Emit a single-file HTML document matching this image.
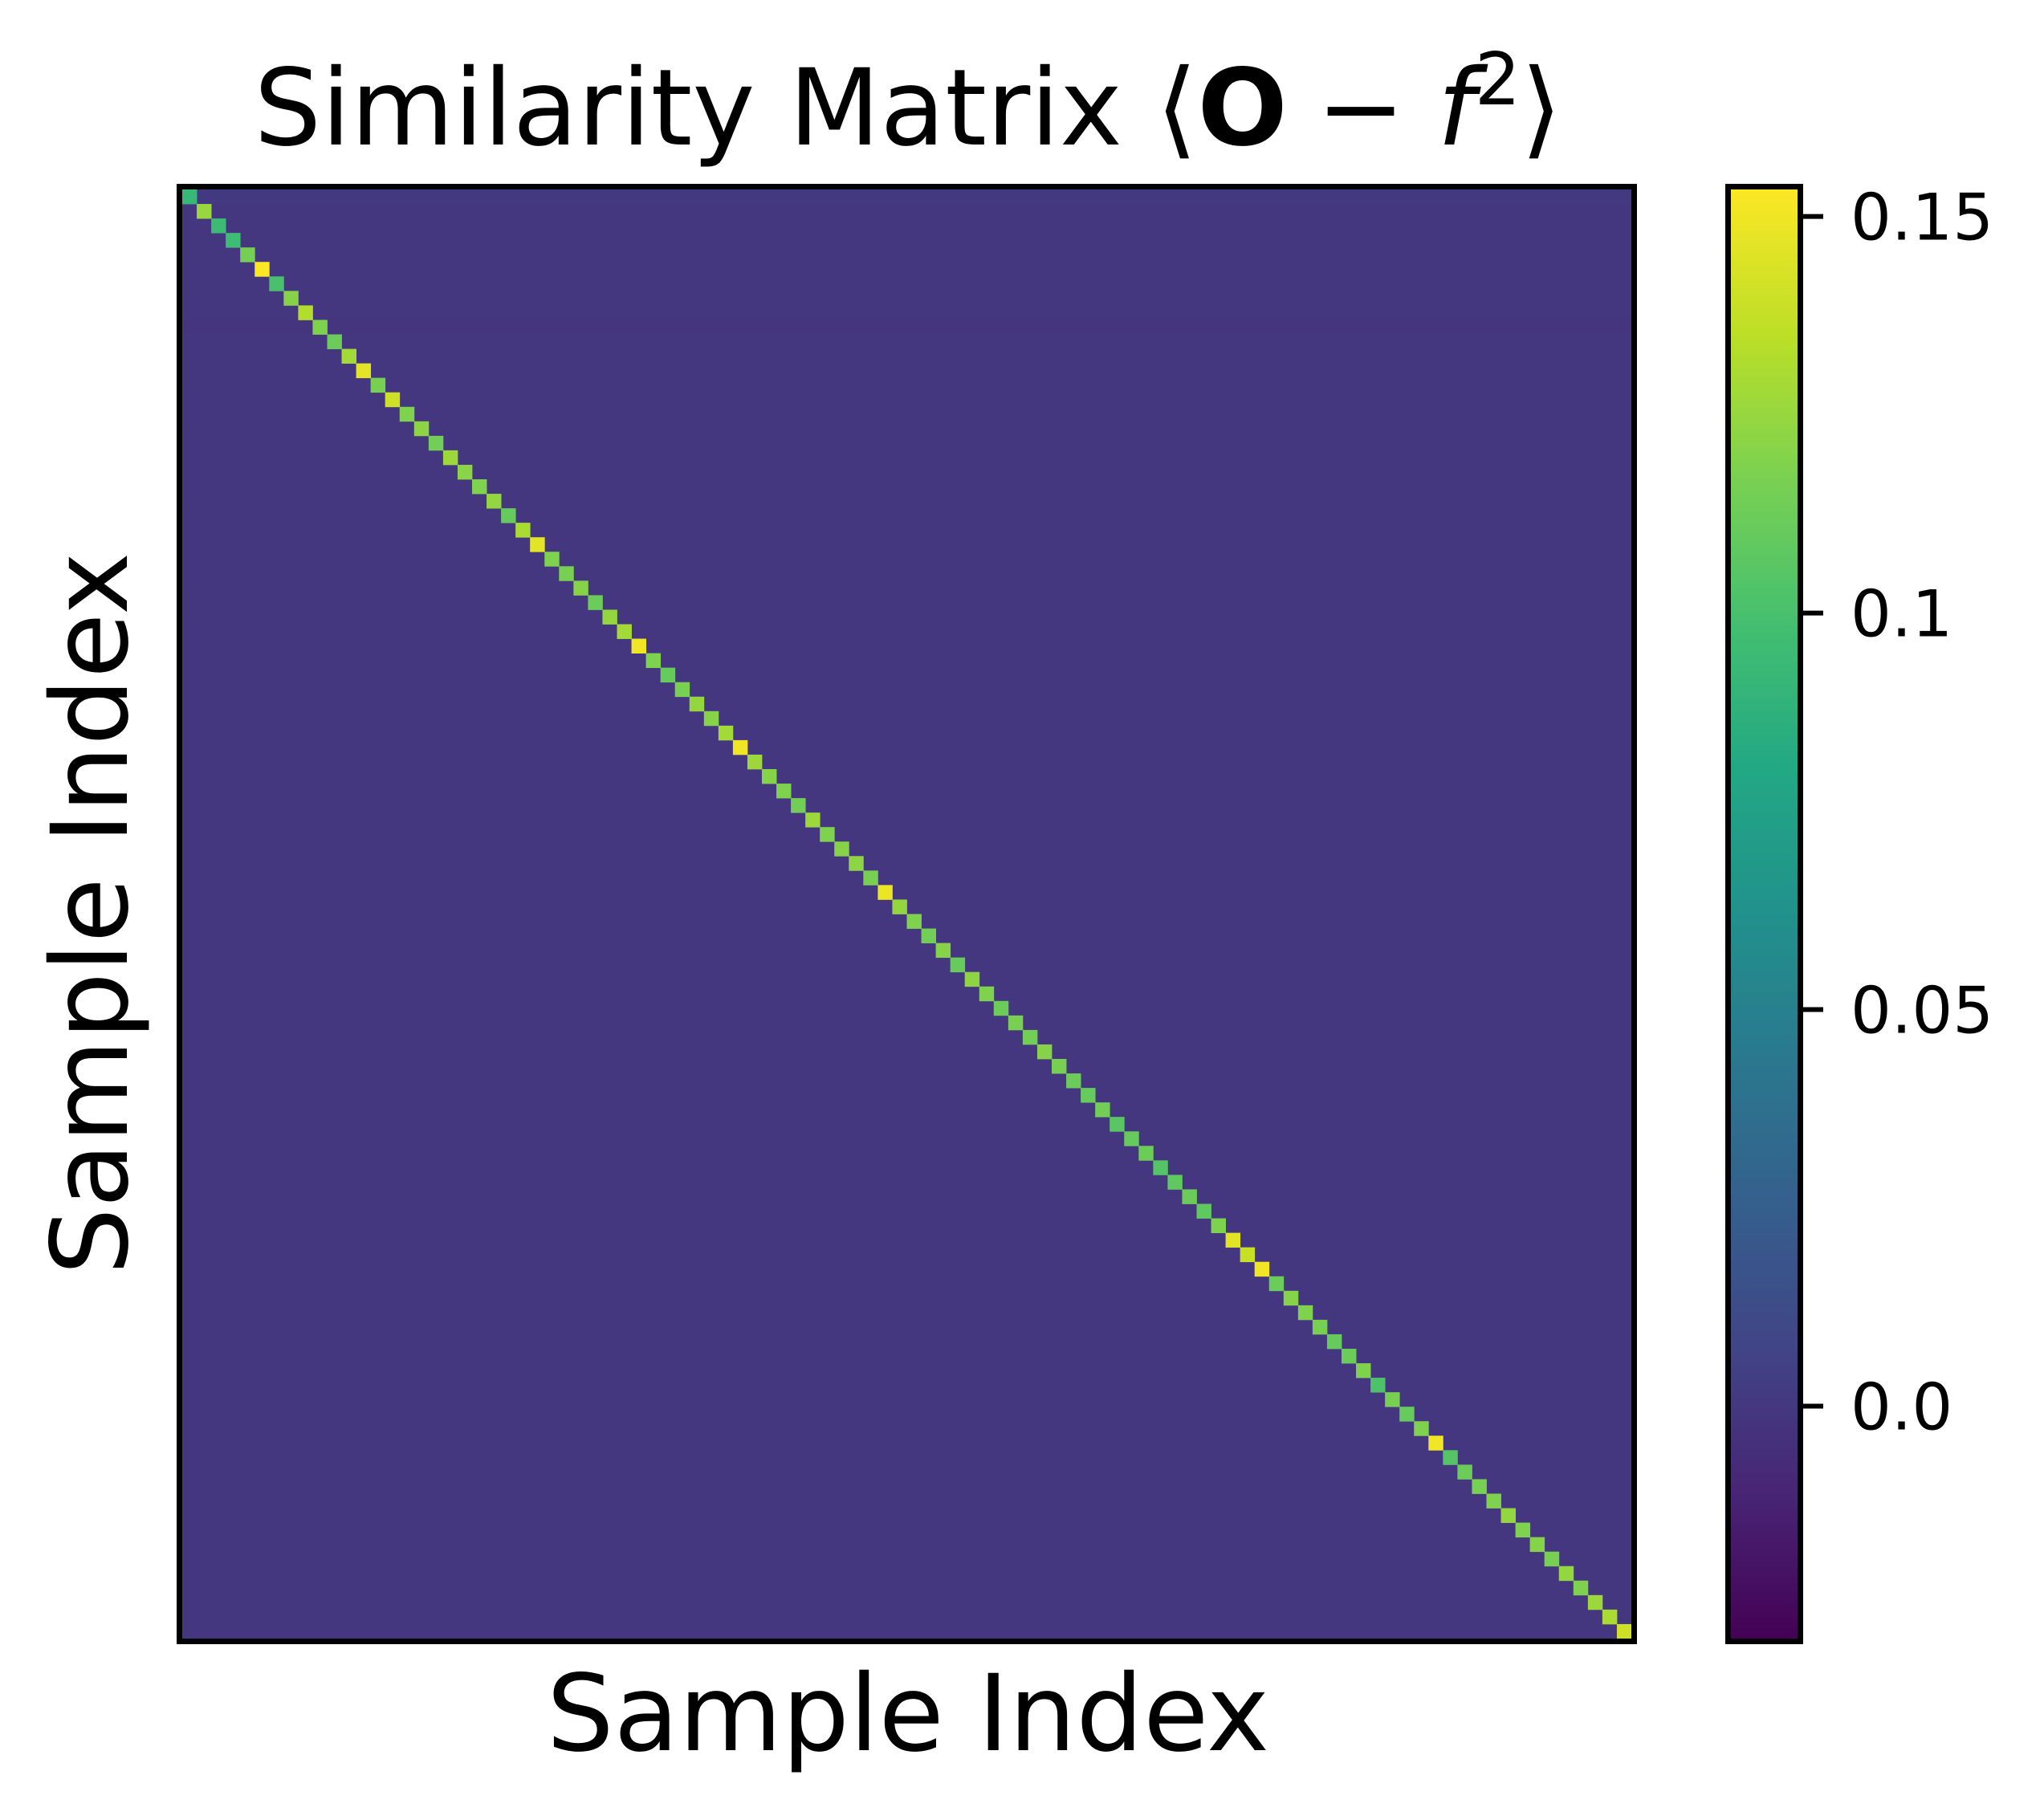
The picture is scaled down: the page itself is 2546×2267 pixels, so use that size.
<!DOCTYPE html>
<html><head><meta charset="utf-8"><style>
html,body{margin:0;padding:0;background:#fff;}
svg{display:block;font-family:"DejaVu Sans","Liberation Sans",sans-serif;}
</style></head><body>
<svg id="chart" width="2546" height="2267" viewBox="0 0 2546 2267" xmlns="http://www.w3.org/2000/svg">
<defs>
<linearGradient id="viridis" x1="0" y1="1" x2="0" y2="0">
<stop offset="0" stop-color="#440154"/><stop offset="0.1" stop-color="#482475"/><stop offset="0.2" stop-color="#414487"/><stop offset="0.3" stop-color="#355f8d"/><stop offset="0.4" stop-color="#2a788e"/><stop offset="0.5" stop-color="#21918c"/><stop offset="0.6" stop-color="#22a884"/><stop offset="0.7" stop-color="#44bf70"/><stop offset="0.8" stop-color="#7ad151"/><stop offset="0.9" stop-color="#bddf26"/><stop offset="1" stop-color="#fde725"/>
</linearGradient>
</defs>
<text x="1131" y="180" font-size="132" text-anchor="middle">Similarity Matrix ⟨<tspan font-weight="bold">O</tspan><tspan dx="36">−</tspan><tspan dx="40" font-style="italic">f</tspan><tspan font-size="90" dy="-50">2</tspan><tspan dy="50">⟩</tspan></text>
<g id="cells"></g>
<rect x="223.5" y="232.5" width="1812" height="1812" fill="none" stroke="#000" stroke-width="7"/>
<text x="1131" y="2180" font-size="132" text-anchor="middle">Sample Index</text>
<text x="0" y="0" font-size="132" text-anchor="middle" transform="translate(158,1138) rotate(-90)">Sample Index</text>
<rect x="2152.5" y="232.5" width="90" height="1812" fill="url(#viridis)" stroke="#000" stroke-width="7"/>
<g id="cbticks"></g>
</svg>
<script>
const nSamples = 100;
const colorMin = -0.0293;
const colorMax = 0.1534;
const tickValues = [0.0, 0.05, 0.1, 0.15];
const tickLabels = ["0.0", "0.05", "0.1", "0.15"];
const diagonalValues = [0.092,0.125,0.095,0.096,0.115,0.153,0.100,0.120,0.132,0.118,0.112,0.128,0.146,0.116,0.140,0.118,0.122,0.114,0.126,0.121,
0.118,0.124,0.110,0.130,0.146,0.118,0.116,0.120,0.112,0.124,0.128,0.150,0.118,0.110,0.116,0.124,0.120,0.128,0.150,0.126,
0.120,0.118,0.114,0.126,0.118,0.120,0.122,0.116,0.148,0.124,0.118,0.114,0.120,0.110,0.122,0.118,0.112,0.116,0.114,0.120,
0.116,0.112,0.110,0.114,0.106,0.110,0.112,0.104,0.108,0.112,0.108,0.118,0.146,0.138,0.150,0.112,0.120,0.118,0.116,0.110,
0.112,0.118,0.102,0.116,0.110,0.118,0.150,0.104,0.112,0.116,0.118,0.124,0.118,0.120,0.116,0.124,0.118,0.126,0.130,0.140];
const offDiagonalRowValues = [0.001,0.000,-0.001,-0.001,0.000,-0.001,-0.001,0.000,-0.001,-0.002,-0.001,-0.001,0.000,-0.001,-0.001,-0.001,0.000,-0.001,-0.001,-0.001,
-0.001,-0.001,0.000,-0.001,-0.001,-0.001,-0.001,-0.001,0.000,-0.001,-0.001,-0.001,-0.001,-0.001,-0.001,-0.001,-0.001,-0.001,-0.001,-0.001,
-0.001,-0.001,-0.001,-0.001,-0.001,-0.001,-0.001,-0.001,-0.001,-0.001,-0.001,-0.001,-0.001,-0.001,-0.001,-0.001,-0.001,-0.001,-0.001,-0.001,
-0.001,-0.001,-0.001,-0.001,-0.001,-0.001,-0.001,-0.001,-0.001,-0.001,-0.001,-0.001,-0.001,-0.001,-0.001,-0.001,-0.001,-0.001,-0.001,-0.001,
-0.001,-0.001,-0.001,-0.001,-0.001,-0.001,-0.001,-0.001,-0.001,-0.001,-0.001,-0.001,-0.001,-0.001,-0.001,-0.001,-0.001,-0.001,-0.001,0.000];

const stops = [[68,1,84],[72,36,117],[65,68,135],[53,95,141],[42,120,142],[33,145,140],[34,168,132],[68,191,112],[122,209,81],[189,223,38],[253,231,37]];
function viridis(v){
  let t = (v - colorMin)/(colorMax - colorMin);
  t = Math.max(0, Math.min(1, t)) * 10;
  const i = Math.min(9, Math.floor(t)), f = t - i;
  const a = stops[i], b = stops[i+1];
  return 'rgb(' + a.map((c,k)=>Math.round(c + (b[k]-c)*f)).join(',') + ')';
}
const plotX0 = 227, plotY0 = 236, plotSize = 1805;
function xScale(i){ return plotX0 + i*plotSize/nSamples; }
function yScale(i){ return plotY0 + i*plotSize/nSamples; }
function cbScale(v){ return 2041 - (v - colorMin)/(colorMax - colorMin)*1805; }

const NS = 'http://www.w3.org/2000/svg';
const cells = document.getElementById('cells');
const cw = plotSize/nSamples;
for (let r = 0; r < nSamples; r++) {
  const row = document.createElementNS(NS, 'rect');
  
  
  row.setAttribute('x', plotX0);
  row.setAttribute('y', yScale(r));
  row.setAttribute('width', plotSize);
  row.setAttribute('height', cw + 0.6);
  row.setAttribute('fill', viridis(offDiagonalRowValues[r]));
  cells.appendChild(row);
}
for (let i = 0; i < nSamples; i++) {
  const c = document.createElementNS(NS, 'rect');
  
  
  c.setAttribute('x', xScale(i));
  c.setAttribute('y', yScale(i));
  c.setAttribute('width', cw + 0.4);
  c.setAttribute('height', cw + 0.4);
  c.setAttribute('fill', viridis(diagonalValues[i]));
  cells.appendChild(c);
}
const tg = document.getElementById('cbticks');
tickValues.forEach((v, k) => {
  const y = cbScale(v);
  const ln = document.createElementNS(NS, 'line');
  
  
  ln.setAttribute('x1', 2245); ln.setAttribute('x2', 2271);
  ln.setAttribute('y1', y); ln.setAttribute('y2', y);
  ln.setAttribute('stroke', '#000'); ln.setAttribute('stroke-width', 6);
  tg.appendChild(ln);
  const t = document.createElementNS(NS, 'text');
  
  
  t.setAttribute('x', 2305);
  t.setAttribute('y', y + 29);
  t.setAttribute('font-size', 80);
  t.textContent = tickLabels[k];
  tg.appendChild(t);
});
</script>
</body></html>
